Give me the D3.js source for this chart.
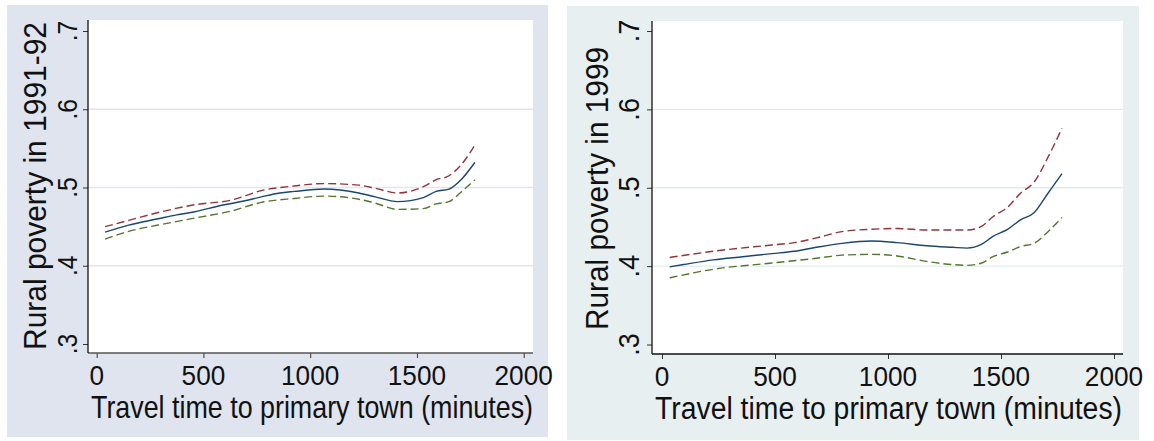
<!DOCTYPE html>
<html><head><meta charset="utf-8">
<script src="https://cdn.jsdelivr.net/npm/d3@7"></script>
<style>html,body{margin:0;padding:0;background:#fff;}svg{display:block;}</style>
</head><body>
<svg id="chart" width="1154" height="441"></svg>
<script>
// ---------- data ----------
const xTicks = [0, 500, 1000, 1500, 2000];
const yTicks = [0.3, 0.4, 0.5, 0.6, 0.7];
const yTickLabels = [".3", ".4", ".5", ".6", ".7"];
const xTitle = "Travel time to primary town (minutes)";
const yTitle1 = "Rural poverty in 1991-92";
const yTitle2 = "Rural poverty in 1999";

// Panel 1 (1991-92)
const mean91X  = [39,150,288,375,460,581,694,771,857,926,1064,1228,1305,1409,1530,1590,1650,1710,1771];
const mean91Y  = [0.443,0.452,0.460,0.465,0.469,0.477,0.483,0.488,0.493,0.495,0.498,0.493,0.488,0.482,0.487,0.495,0.498,0.511,0.532];
const upper91X = [39,150,288,460,632,771,926,1064,1228,1305,1409,1530,1590,1650,1710,1771];
const upper91Y = [0.450,0.458,0.468,0.478,0.484,0.496,0.502,0.505,0.503,0.499,0.493,0.501,0.510,0.515,0.530,0.554];
const lower91X = [39,150,288,460,632,771,926,1064,1228,1305,1409,1530,1590,1650,1710,1771];
const lower91Y = [0.434,0.444,0.452,0.461,0.470,0.481,0.486,0.489,0.485,0.480,0.472,0.473,0.479,0.482,0.495,0.510];

// Panel 2 (1999)
const mean99X  = [34,96,227,357,487,585,683,796,926,1040,1171,1285,1350,1415,1464,1529,1586,1646,1708,1770];
const mean99Y  = [0.399,0.402,0.408,0.412,0.416,0.419,0.424,0.429,0.432,0.430,0.426,0.424,0.423,0.428,0.438,0.447,0.459,0.468,0.493,0.518];
const upper99X = [34,227,487,585,683,796,926,1040,1171,1350,1415,1464,1529,1586,1646,1708,1770];
const upper99Y = [0.411,0.419,0.427,0.430,0.436,0.444,0.447,0.448,0.446,0.446,0.451,0.463,0.475,0.493,0.507,0.539,0.576];
const lower99X = [34,227,487,683,796,926,1040,1171,1285,1350,1415,1464,1529,1586,1646,1708,1770];
const lower99Y = [0.385,0.396,0.404,0.410,0.414,0.415,0.413,0.406,0.402,0.401,0.404,0.412,0.418,0.425,0.429,0.444,0.462];

// ---------- layout / style ----------
const colors = {mean:"#1a476f", upper:"#90353b", lower:"#55752f"};
const panels = [
  {bg:[7,5,548,437], bgColor:"#dfe4ef", grid:"#e2e5f1", xAxisColor:"#555",
   plot:[88,20,533,353], xr:[96.7,523.7], yr:[344,31],
   xLabBase:385, xFont:27, xSquash:0.97, titleBase:417.5, titleX:91, titleLen:442, titleFont:27, titleVS:1.14,
   yTitleX:46, yTitleLen:328, yTitleC:186, yTitleFont:28, yTitleVS:1.14,
   yLabBase:77, yFont:28, ySquash:0.88, yTitle:yTitle1,
   series:[[mean91X,mean91Y,"mean"],[upper91X,upper91Y,"upper"],[lower91X,lower91Y,"lower"]]},
  {bg:[567,6,1139,440], bgColor:"#e8eff1", grid:"#e2ebeb", xAxisColor:"#111",
   plot:[652,21,1123,354], xr:[662,1114], yr:[344.5,31],
   xLabBase:386, xFont:27, xSquash:0.97, titleBase:419, titleX:655, titleLen:467, titleFont:28, titleVS:1.1,
   yTitleX:608, yTitleLen:283, yTitleC:188.5, yTitleFont:28, yTitleVS:1.14,
   yLabBase:639, yFont:30, ySquash:0.9, yTitle:yTitle2,
   series:[[mean99X,mean99Y,"mean"],[upper99X,upper99Y,"upper"],[lower99X,lower99Y,"lower"]]}
];

const svg = d3.select("#chart");
const font = "'Liberation Sans', Arial, sans-serif";

function squash(sel, f) {
  sel.each(function() {
    const L = this.getComputedTextLength();
    d3.select(this).attr("textLength", L * f).attr("lengthAdjust", "spacingAndGlyphs");
  });
}

panels.forEach(p => {
  const g = svg.append("g");
  g.append("rect").attr("x",p.bg[0]).attr("y",p.bg[1])
    .attr("width",p.bg[2]-p.bg[0]).attr("height",p.bg[3]-p.bg[1]).attr("fill",p.bgColor);
  const [px0,py0,px1,py1] = p.plot;
  g.append("rect").attr("x",px0).attr("y",py0).attr("width",px1-px0).attr("height",py1-py0).attr("fill","#fff");

  const x = d3.scaleLinear().domain([0,2000]).range(p.xr);
  const y = d3.scaleLinear().domain([0.3,0.7]).range(p.yr);

  // gridlines
  g.selectAll(".grid").data(yTicks.filter(v => v>0.31 && v<0.69)).enter().append("line")
    .attr("x1",px0).attr("x2",px1).attr("y1",d=>y(d)).attr("y2",d=>y(d))
    .attr("stroke",p.grid).attr("stroke-width",1.3);

  // axes
  const xAxis = d3.axisBottom(x).tickValues(xTicks).tickSize(5).tickFormat("");
  const xg = g.append("g").attr("transform",`translate(0,${py1})`).call(xAxis);
  xg.select(".domain").remove();
  xg.selectAll("line").attr("stroke","#333");
  g.append("line").attr("x1",px0).attr("x2",px1).attr("y1",py1).attr("y2",py1)
    .attr("stroke",p.xAxisColor).attr("stroke-width",1.3);

  const yAxis = d3.axisLeft(y).tickValues(yTicks).tickSize(5).tickFormat("");
  const yg = g.append("g").attr("transform",`translate(${px0},0)`).call(yAxis);
  yg.select(".domain").remove();
  yg.selectAll("line").attr("stroke","#333");
  g.append("line").attr("x1",px0).attr("x2",px0).attr("y1",py0).attr("y2",py1)
    .attr("stroke","#111").attr("stroke-width",1.3);

  // x tick labels
  g.selectAll(".xl").data(xTicks).enter().append("text")
    .attr("x",d=>x(d)).attr("y",p.xLabBase).attr("text-anchor","middle")
    .attr("font-family",font).attr("font-size",p.xFont).attr("fill","#111")
    .text(d=>d).call(squash, p.xSquash);

  // y tick labels (rotated)
  g.selectAll(".yl").data(yTicks).enter().append("text")
    .attr("transform",d=>`translate(${p.yLabBase},${y(d)}) rotate(-90)`)
    .attr("text-anchor","middle")
    .attr("font-family",font).attr("font-size",p.yFont).attr("fill","#111")
    .text((d,i)=>yTickLabels[i]).call(squash, p.ySquash);

  // titles (glyphs slightly taller than wide, as in the reference)
  g.append("text")
    .attr("transform",`translate(${p.titleX},${p.titleBase}) scale(1,${p.titleVS})`)
    .attr("font-family",font).attr("font-size",p.titleFont).attr("fill","#111")
    .attr("textLength",p.titleLen).attr("lengthAdjust","spacingAndGlyphs")
    .text(xTitle);
  g.append("text")
    .attr("transform",`translate(${p.yTitleX},${p.yTitleC}) rotate(-90) scale(1,${p.yTitleVS})`)
    .attr("x",-p.yTitleLen/2).attr("y",0)
    .attr("font-family",font).attr("font-size",p.yTitleFont).attr("fill","#111")
    .attr("textLength",p.yTitleLen).attr("lengthAdjust","spacingAndGlyphs")
    .text(p.yTitle);

  // lines
  const line = d3.line().x(d=>x(d[0])).y(d=>y(d[1])).curve(d3.curveMonotoneX);
  p.series.forEach(([xs,ys,key]) => {
    const pts = xs.map((v,i)=>[v,ys[i]]);
    g.append("path").datum(pts).attr("d",line).attr("fill","none")
      .attr("stroke",colors[key]).attr("stroke-width",1.4)
      .attr("stroke-dasharray", key==="mean" ? null : "8,4");
  });
});
</script>
</body></html>
